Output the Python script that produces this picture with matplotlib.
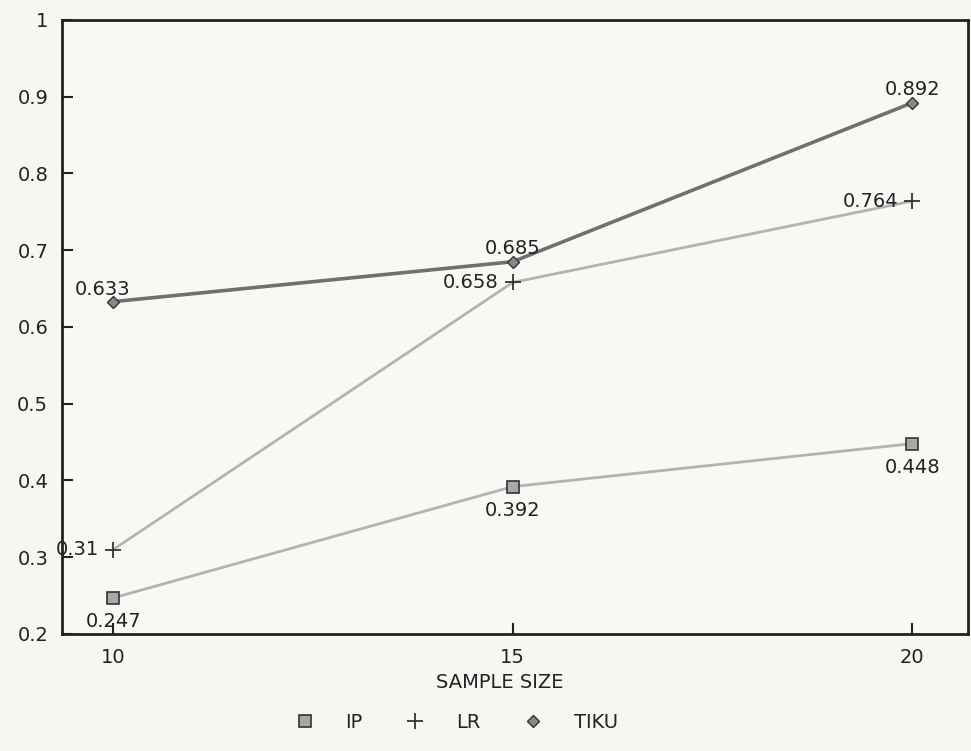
import matplotlib
matplotlib.use("Agg")
import matplotlib.pyplot as plt
from matplotlib.lines import Line2D

sample_size = [10, 15, 20]
ip = [0.247, 0.392, 0.448]
lr = [0.31, 0.658, 0.764]
tiku = [0.633, 0.685, 0.892]
yticks = [0.2, 0.3, 0.4, 0.5, 0.6, 0.7, 0.8, 0.9, 1.0]
ytick_labels = ["0.2", "0.3", "0.4", "0.5", "0.6", "0.7", "0.8", "0.9", "1"]

fig = plt.figure(figsize=(9.71, 7.51), dpi=100, facecolor="#f7f6f3")
ax = fig.add_axes([0.0639, 0.1558, 0.933, 0.8176])
ax.set_facecolor("#f9f8f5")

ip_style = dict(marker="s", ms=8, mfc="#a8a8a8", mec="#333333", mew=1.2)
lr_style = dict(marker="+", ms=12, mec="#333333", mew=1.3)
tk_style = dict(marker="D", ms=6, mfc="#888888", mec="#333333", mew=1.0)

ax.plot(sample_size, ip, color="#b3b3b3", lw=2, **ip_style)
ax.plot(sample_size, lr, color="#b3b3b3", lw=2, **lr_style)
ax.plot(sample_size, tiku, color="#707070", lw=2.6, **tk_style)

fs = 14
tc = "#222222"
for x, y in zip(sample_size, ip):
    ax.annotate(f"{y:g}", (x, y), xytext=(0, -10), textcoords="offset points",
                ha="center", va="top", fontsize=fs, color=tc)
for x, y in zip(sample_size, lr):
    ax.annotate(f"{y:g}", (x, y), xytext=(-10, 0), textcoords="offset points",
                ha="right", va="center", fontsize=fs, color=tc)
ax.annotate(f"{tiku[0]:g}", (sample_size[0], tiku[0]), xytext=(-8, 2), textcoords="offset points",
            ha="center", va="bottom", fontsize=fs, color=tc)
for x, y in zip(sample_size[1:], tiku[1:]):
    ax.annotate(f"{y:g}", (x, y), xytext=(0, 3), textcoords="offset points",
                ha="center", va="bottom", fontsize=fs, color=tc)

ax.set_xlim(9.36, 20.70)
ax.set_ylim(0.2, 1.0)
ax.set_xticks(sample_size)
ax.set_yticks(yticks)
ax.set_yticklabels(ytick_labels)
ax.tick_params(axis="both", direction="in", length=8, width=1.5, labelsize=14,
               colors="#222222", pad=10)
for s in ax.spines.values():
    s.set_linewidth(2)
    s.set_color("#222222")

fig.text(0.515, 1 - 683 / 751, "SAMPLE SIZE", ha="center", va="center",
         fontsize=14, color="#222222")

handles = [Line2D([], [], ls="none", **ip_style),
           Line2D([], [], ls="none", **lr_style),
           Line2D([], [], ls="none", **tk_style)]
fig.legend(handles=handles, labels=["IP", "LR", "TIKU"], loc="center",
           bbox_to_anchor=(0.47, 1 - 722 / 751), ncol=3, frameon=False, fontsize=14,
           handlelength=1.0, columnspacing=2.2, handletextpad=1.6, labelcolor="#222222")

fig.savefig("out.png", dpi=100, facecolor=fig.get_facecolor())
